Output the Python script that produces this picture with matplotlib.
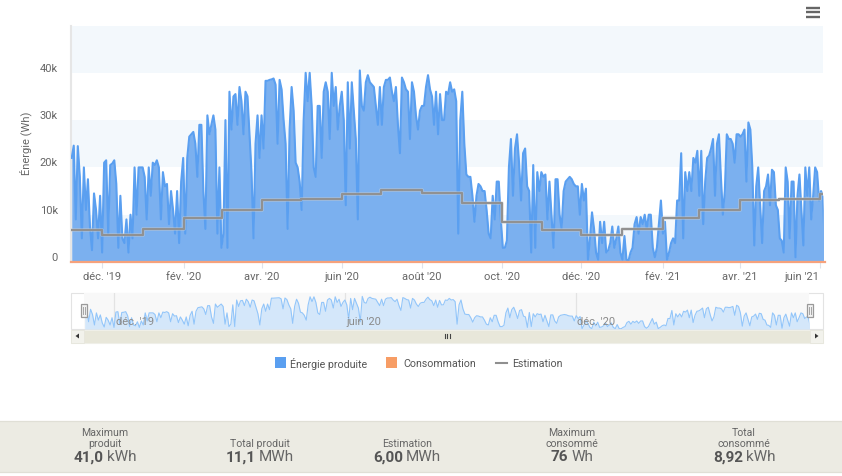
import matplotlib
matplotlib.use("Agg")
import matplotlib.pyplot as plt
import matplotlib.dates as mdates
import numpy as np
import pandas as pd
from matplotlib.patches import Rectangle, Polygon

plt.rcParams['font.family'] = ['Roboto', 'DejaVu Sans']

# Daily production (kWh), one list per stretch of the time axis
energy_a = [22,24.6,9,24.5,18,5,20,11,17.5,7.5,2.5,14.5,11,5,14,2,21,21.5,6,20.5,20.8,21.5,16.5,3,14,5,4,9,2,10,5,20,10,20,20,20,18,9,20,14,21,20.5,21.5,20,9,19,16,16.5,8,15,11,6,15,4,17,22,6,22,26.5,27,27.5,25]
energy_b = [18,29,29,15,7,31,27,29,31,28,6,20,3,6,30,3,36,28,35,35.5,29,37,34,27,36,35,27,19,5,25,31,22,31,24,38.3,38.3,38.5,38.6,38.8,37.5,25,38.5,36.5,30,25,7,28,37,32,21,20,17,11,30,40,34,40,33,20,18,33,33]
energy_c = [22,36,38,36,26,40,33,37,28,33,36,30,12,38,24,38,32,26,9,40.5,33,32,38,39.5,38,37.5,37,33,29,37,29,37,38.5,38.5,39,36,34,37,29,23,39,38,36.5,36,26,38,36,31,28,32,33,33,37,39.5,36.5,35,29,36,27,35.5,30,30]
energy_d = [36,35.5,38,36,36.5,34,6,30,36,25,18.5,18,18,14,8.5,14,16.5,16,15,15,11,6,5,14,9,17,17,9,3,3,4.5,20,26,14,24,27,21,13,23,24,16,15,2,20.5,3,19,15,19,18,18.5,9,17,10,3,17.5,17.5,10,7,15,17,17.5,18]
energy_e = [17.5,16.5,16,16,10,16.5,13,15.5,0.5,5,10.5,7,2,0.5,8.5,4,8.5,2,2.5,4,7.5,3,5,7.5,2,0.5,5.5,0.5,0.3,2,3,8,9.5,6,9.5,8,10,7,10,10,3,1,3,8,13,6,8.5,0.5,2,4,5,4,13,13,23,5,19,15,19,15,22,21]
energy_f = [23.5,14,23.5,8,17,22,22.5,24,26,14,25,27,18,10,15,27,26,26,25,21,27,27,26.5,27,28,17,29.5,28,20,3.5,16,20,12,4,15,16,18.5,12,19.5,19,12,11,5,4.5,2,20,17,5,17,17,1,14,18.5,11,3.5,20,14,20,9,14,20,19,13,15,14,2]
energy_parts = [energy_a, energy_b, energy_c, energy_d, energy_e, energy_f]
part_edges = ['2019-11-06', '2020-02-10', '2020-05-15', '2020-08-18', '2020-11-22', '2021-02-26', '2021-06-05']

# Monthly estimate (kWh)
estimate_months = ['2019-11-07','2019-12-01','2020-01-01','2020-02-01','2020-03-01','2020-04-01','2020-05-01','2020-06-01','2020-07-01','2020-08-01','2020-09-01','2020-10-01','2020-11-01','2020-12-01','2021-01-01','2021-02-01','2021-03-01','2021-04-01','2021-05-01','2021-06-01','2021-06-05']
estimate = [6.7,5.8,6.9,9.2,10.9,13.2,13.4,14.4,15.3,14.5,12.4,8.4,6.7,5.8,6.9,9.2,10.9,13.2,13.4,14.3,14.3]

# Consumption stays close to zero (kWh)
consumption_dates = ['2019-11-07', '2021-06-05']
consumption = [0.04, 0.04]

tick_dates = ['2019-12-01','2020-02-01','2020-04-01','2020-06-01','2020-08-01','2020-10-01','2020-12-01','2021-02-01','2021-04-01','2021-06-01']
tick_labels = ["déc. '19","fév. '20","avr. '20","juin '20","août '20","oct. '20","déc. '20","fév. '21","avr. '21","juin '21"]
nav_tick_dates = ['2019-12-01','2020-06-01','2020-12-01']
nav_tick_labels = ["déc. '19","juin '20","déc. '20"]
y_ticks = [0, 10000, 20000, 30000, 40000]
y_labels = ['0', '10k', '20k', '30k', '40k']
stats = [
    (105, ['Maximum', 'produit'], '41,0', 'kWh'),
    (260, ['Total produit'], '11,1', 'MWh'),
    (407, ['Estimation'], '6,00', 'MWh'),
    (572, ['Maximum', 'consommé'], '76', 'Wh'),
    (744, ['Total', 'consommé'], '8,92', 'kWh'),
]

W, H = 842, 477
dates, values = [], []
for k, part in enumerate(energy_parts):
    a, b = pd.Timestamp(part_edges[k]), pd.Timestamp(part_edges[k + 1])
    step = (b - a) / len(part)
    dates += [a + step * (i + 1) for i in range(len(part))]
    values += part
x = mdates.date2num(pd.DatetimeIndex(dates))
y = np.array(values) * 1000.0
xmin, xmax = mdates.date2num(pd.Timestamp('2019-11-07')), mdates.date2num(pd.Timestamp('2021-06-03 12:00'))

def axes_px(l, t, r, b, **kw):
    return fig.add_axes([l / W, 1 - b / H, (r - l) / W, (b - t) / H], **kw)

fig = plt.figure(figsize=(W / 100, H / 100), dpi=100, facecolor='white')

# Page furniture, in pixel coordinates
pg = fig.add_axes([0, 0, 1, 1], zorder=0)
pg.set_xlim(0, W); pg.set_ylim(H, 0); pg.axis('off')

# Main chart
ax = axes_px(71, 26.5, 823, 263, zorder=2)
ax.set_facecolor('none')
ax.set_xlim(xmin, xmax); ax.set_ylim(0, 50000)
for lo in [0, 20000, 40000]:
    ax.axhspan(lo, lo + 10000, color='#f3f8fc', lw=0, zorder=0)
ax.fill_between(x, 0, y, color='#7bb0ef', lw=0, zorder=2)
ax.plot(x, y, color='#5a9ff0', lw=1.5, zorder=3, solid_joinstyle='round')
ax.plot(mdates.date2num(pd.DatetimeIndex(consumption_dates)), np.array(consumption) * 1000,
        color='#f6a27c', lw=1.6, zorder=4, clip_on=False)
ex = mdates.date2num(pd.DatetimeIndex(estimate_months))
ax.step(ex, np.array(estimate) * 1000, where='post', color='#d5d8dc', lw=2.8, alpha=.4, zorder=4)
ax.step(ex, np.array(estimate) * 1000, where='post', color='#919191', lw=1.6, zorder=5)
for s in ['top', 'right', 'bottom']:
    ax.spines[s].set_visible(False)
ax.spines['left'].set_color('#e6e6e6'); ax.spines['left'].set_linewidth(1.5)
ax.set_yticks(y_ticks); ax.set_yticklabels(y_labels, color='#666666', fontsize=8, va='bottom')
ax.tick_params(axis='y', length=0, pad=9.4)
ax.set_xticks(mdates.date2num(pd.DatetimeIndex(tick_dates)))
ax.set_xticklabels(tick_labels, color='#666666', fontsize=8)
ax.tick_params(axis='x', length=4.5, width=0.8, color='#dfe3ea', pad=2)
ax.get_xticklabels()[-1].set_ha('right')
ax.get_xticklabels()[-1].set_x(xmax)
pg.text(25.5, 143, 'Énergie (Wh)', rotation=90, ha='center', va='center', fontsize=8, color='#666666')

# Navigator
pg.add_patch(Rectangle((71, 294), 752, 36, fc='white', ec='#e3e3e3', lw=.8))
nav = axes_px(84, 294, 808.5, 330, zorder=2)
nav.set_facecolor('#f8f8f8')
nav.set_xlim(xmin, xmax); nav.set_ylim(0, 44700)
nav.fill_between(x, 0, y, color='#d4e7fa', lw=0, zorder=2)
nav.plot(x, y, color='#93c6fa', lw=.8, zorder=3)
nav.set_xticks([]); nav.set_yticks([])
for s in nav.spines.values():
    s.set_visible(False)
for d, l in zip(nav_tick_dates, nav_tick_labels):
    t = mdates.date2num(pd.Timestamp(d))
    nav.axvline(t, color='#e3e3e3', lw=.9, zorder=1)
    nav.annotate(l, (t, 0), xytext=(1, 3.5), textcoords='offset points', fontsize=8, color='#8a8a8a', zorder=5)

# Scrollbar
pg.add_patch(Rectangle((71, 331), 752, 12.5, fc='#e8e7da', ec='#efefe8', lw=.8))
pg.add_patch(Rectangle((71, 331), 12.5, 12.5, fc='#f2f2ec', ec='#e6e6dc', lw=.6))
pg.add_patch(Rectangle((810, 331), 13, 12.5, fc='#f2f2ec', ec='#e6e6dc', lw=.6))
pg.add_patch(Polygon([(79, 334.5), (79, 339.5), (75.5, 337)], fc='#333333', lw=0))
pg.add_patch(Polygon([(815, 334.5), (815, 339.5), (818.5, 337)], fc='#333333', lw=0))

# Top layer for handles and grips
top = fig.add_axes([0, 0, 1, 1], zorder=5)
top.set_xlim(0, W); top.set_ylim(H, 0); top.axis('off'); top.patch.set_alpha(0)
for hx in [80.5, 806.5]:
    top.add_patch(Rectangle((hx, 305), 6.5, 13, fc='#f2f2f2', ec='#9a9a9a', lw=.9))
    for d in [2.4, 4.1]:
        top.plot([hx + d, hx + d], [308, 315], color='#a5a5a5', lw=.7)
for gx in [444.5, 447, 449.5]:
    top.plot([gx, gx], [334.5, 339], color='#444444', lw=.8)

# Hamburger menu
for hy in [8.5, 13, 17.5]:
    top.plot([805.5, 820], [hy, hy], color='#666666', lw=1.7, solid_capstyle='butt')

# Legend
pg.add_patch(Rectangle((275, 358), 10.5, 10.5, fc='#5a9ff0', lw=0))
pg.text(290, 364, 'Énergie produite', fontsize=7.7, color='#555555', va='center')
pg.add_patch(Rectangle((386, 358), 10.5, 10.5, fc='#f79d65', lw=0))
pg.text(403, 364, 'Consommation', fontsize=7.7, color='#555555', va='center')
pg.plot([496, 507], [363.5, 363.5], color='#8f8f8f', lw=1.5)
pg.text(512, 364, 'Estimation', fontsize=7.7, color='#555555', va='center')

# Statistics band
pg.add_patch(Rectangle((-2, 422), W + 4, 51, fc='#ecebe3', ec='#e0dfd6', lw=.9))
fig.canvas.draw()
rend = fig.canvas.get_renderer()
for cx, lines, val, unit in stats:
    n = len(lines)
    for i, line in enumerate(lines):
        pg.text(cx, 444 - 10.5 * (n - 1 - i), line, ha='center', va='center', fontsize=7.6, color='#666666')
    t1 = pg.text(0, 457.5, val, fontsize=11, fontweight='bold', color='#555555', va='center')
    t2 = pg.text(0, 457.5, unit, fontsize=11, color='#666666', va='center')
    w1 = t1.get_window_extent(rend).width
    w2 = t2.get_window_extent(rend).width
    left = cx - (w1 + 3 + w2) / 2
    t1.set_x(left)
    t2.set_x(left + w1 + 3)

fig.savefig('out.png', dpi=100, facecolor='white')
